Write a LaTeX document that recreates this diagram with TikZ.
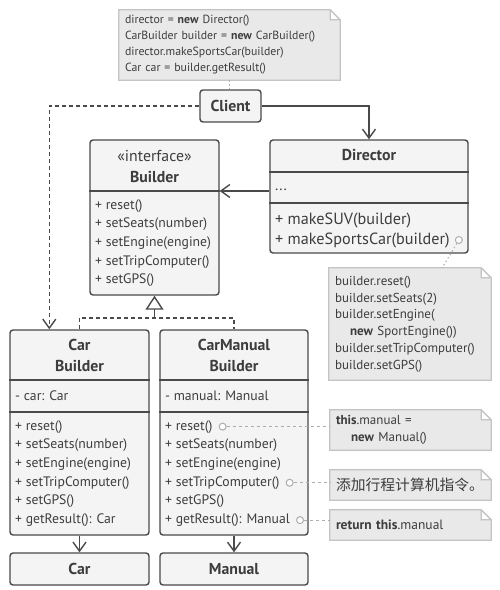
\documentclass[tikz,border=0pt]{standalone}
\usepackage{fontspec}
\setmainfont{PT Sans}
\newfontfamily\cjk{Noto Sans CJK SC}
\usetikzlibrary{arrows.meta}
\usetikzlibrary{positioning}
\usetikzlibrary{backgrounds}
\definecolor{ink}{HTML}{3D3D3D}
\definecolor{frame}{HTML}{4A4A4A}
\definecolor{paper}{HTML}{F4F4F4}
\definecolor{notepaper}{HTML}{E9E9E9}
\definecolor{noteframe}{HTML}{C4C4C4}
\definecolor{hint}{HTML}{ADADAD}
\tikzstyle{class}=[draw=frame, fill=paper, line width=1.4pt, rounded corners=3pt, inner sep=0pt]
\tikzstyle{divider}=[draw=frame, line width=1.4pt]
\tikzstyle{title}=[font=\fontsize{15.8}{18}\selectfont\bfseries, text=ink, inner sep=0pt, anchor=base]
\tikzstyle{member}=[font=\fontsize{13.7}{16}\selectfont, text=ink, inner sep=0pt, anchor=base west]
\tikzstyle{note}=[font=\fontsize{13}{17}\selectfont, text=ink, align=left, inner xsep=6pt, inner ysep=0pt]
\tikzstyle{note frame}=[draw=noteframe, fill=notepaper, line width=1.3pt]
\tikzstyle{link}=[draw=frame, line width=1.4pt]
\tikzstyle{dependency}=[link, dash pattern=on 4pt off 3pt]
\tikzstyle{open head}=[-{Straight Barb[length=9pt, width=13pt]}]
\tikzstyle{hint line}=[draw=hint, line width=1pt, dash pattern=on 3pt off 3pt]
\tikzstyle{hint dot}=[draw=hint, fill=white, circle, line width=1pt, minimum size=7pt, inner sep=0pt]

\begin{document}
\begin{tikzpicture}[x=1pt, y=-1pt]
  \useasboundingbox (0,0) rectangle (500,590);
  \begin{pgfonlayer}{background}
    \fill[white] (0,0) rectangle (500,590);
  \end{pgfonlayer}

  % client and its note
  \node[class, title, anchor=center, minimum width=61pt, minimum height=32pt] (client) at (230.5,106) {Client};
  \node[note, font=\fontsize{11.8}{16}\selectfont, text width=209pt, minimum height=70pt] (clientnote) at (229.5,45)
    {director = \textbf{new} Director()\\
     CarBuilder builder = \textbf{new} CarBuilder()\\
     director.makeSportsCar(builder)\\
     Car car = builder.getResult()};

  % builder interface
  \node[class, minimum width=129pt, minimum height=155pt] (builder) at (154.5,217.5) {};
  \draw[divider] (builder.west |- 0,191) -- (builder.east |- 0,191);
  \node[title, font=\fontsize{15.8}{18}\selectfont] (builderstereo) at (154.5,161) {«interface»};
  \node[title] (buildertitle) at (154.5,182) {Builder};
  \foreach \m [count=\i] in {reset(), setSeats(number), setEngine(engine), setTripComputer(), setGPS()}
    \node[member] (buildermember\i) at (95,190.4+18.7*\i) {+ \m};

  % director
  \node[class, minimum width=198pt, minimum height=113pt] (director) at (369,196.5) {};
  \draw[divider] (director.west |- 0,172) -- (director.east |- 0,172);
  \draw[divider] (director.west |- 0,203) -- (director.east |- 0,203);
  \node[title] (directortitle) at (369,160) {Director};
  \node[member, font=\fontsize{15}{16}\selectfont] (directorfield) at (275,190) {...};
  \node[member, font=\fontsize{16.2}{18}\selectfont] (directormethod1) at (275,224) {+ makeSUV(builder)};
  \node[member, font=\fontsize{16.2}{18}\selectfont] (directormethod2) at (275,244) {+ makeSportsCar(builder)};
  \node[hint dot, right=5pt of directormethod2] (directordot) {};
  \node[note, font=\fontsize{13}{16.8}\selectfont, text width=150pt, minimum height=112pt] (directornote) at (410,324)
    {builder.reset()\\
     builder.setSeats(2)\\
     builder.setEngine(\\
     \hspace*{15pt}\textbf{new} SportEngine())\\
     builder.setTripComputer()\\
     builder.setGPS()};

  % concrete builders
  \node[class, minimum width=139pt, minimum height=205pt] (carbuilder) at (79.5,432.5) {};
  \draw[divider] (carbuilder.west |- 0,380) -- (carbuilder.east |- 0,380);
  \draw[divider] (carbuilder.west |- 0,412) -- (carbuilder.east |- 0,412);
  \node[title] (carbuildertitle1) at (79.5,350) {Car};
  \node[title] (carbuildertitle2) at (79.5,371) {Builder};
  \node[member] (carbuilderfield) at (15,400) {- car: Car};
  \foreach \m [count=\i] in {reset(), setSeats(number), setEngine(engine), setTripComputer(), setGPS(), getResult(): Car}
    \node[member] (carmember\i) at (15,411.3+18.7*\i) {+ \m};

  \node[class, minimum width=148pt, minimum height=205pt] (manualbuilder) at (234,432.5) {};
  \draw[divider] (manualbuilder.west |- 0,380) -- (manualbuilder.east |- 0,380);
  \draw[divider] (manualbuilder.west |- 0,412) -- (manualbuilder.east |- 0,412);
  \node[title] (manualbuildertitle1) at (234,350) {CarManual};
  \node[title] (manualbuildertitle2) at (234,371) {Builder};
  \node[member] (manualbuilderfield) at (165,400) {- manual: Manual};
  \foreach \m [count=\i] in {reset(), setSeats(number), setEngine(engine), setTripComputer(), setGPS(), getResult(): Manual}
    \node[member] (manualmember\i) at (165,411.3+18.7*\i) {+ \m};

  % products
  \node[class, title, anchor=center, minimum width=139pt, minimum height=32pt] (car) at (79.5,569) {Car};
  \node[class, title, anchor=center, minimum width=148pt, minimum height=32pt] (manual) at (234,569) {Manual};

  % notes on the right
  \node[note, text width=149pt, minimum height=40pt] (resetnote) at (410.5,430)
    {\textbf{this}.manual =\\ \hspace*{15pt}\textbf{new} Manual()};
  \node[note, text width=149pt, minimum height=30pt, font=\fontsize{14.8}{18}\cjk] (tripnote) at (410.5,485) {添加行程计算机指令。};
  \node[note, text width=149pt, minimum height=30pt, font=\fontsize{13.5}{17}\selectfont] (resultnote) at (410.5,525) {\textbf{return this}.manual};
  \node[hint dot, right=6pt of manualmember1] (resetdot) {};
  \node[hint dot, right=6pt of manualmember4] (tripdot) {};
  \node[hint dot, right=6pt of manualmember6] (resultdot) {};

  \begin{pgfonlayer}{background}
    \foreach \n in {clientnote, directornote, resetnote, tripnote, resultnote}
      \draw[note frame] (\n.south west) -- (\n.north west) -- ([xshift=-10pt]\n.north east)
        -- ([yshift=-10pt]\n.north east) -- (\n.south east) -- cycle
        ([xshift=-10pt]\n.north east) |- ([yshift=-10pt]\n.north east);
  \end{pgfonlayer}

  % connectors
  \draw[link, open head] (client.east) -| (director.north);
  \draw[dependency, open head] (client.west) -| ([xshift=40pt]carbuilder.north west);
  \draw[link, open head] (director.west |- 0,191) -- (builder.east |- 0,191);
  \coordinate (join) at (builder.south |- 0,318);
  \draw[dependency] (carbuilder.north) |- (join) -| (manualbuilder.north);
  \draw[link, -{Triangle[open, length=14pt, width=18pt]}] (join) -- (builder.south);
  \draw[link, open head] (carbuilder.south) -- (car.north);
  \draw[link, open head] (manualbuilder.south) -- (manual.north);

  \draw[hint line, dash pattern=on 1.5pt off 2.5pt] (clientnote.south) -- (clientnote.south |- client.north);
  \draw[hint line, dash pattern=on 1.5pt off 2.5pt] (directordot) -- ([xshift=-49pt]directornote.north east);
  \draw[hint line] (resetdot) -- (resetnote.west |- resetdot);
  \draw[hint line] (tripdot) -- (tripnote.west |- tripdot);
  \draw[hint line] (resultdot) -- (resultnote.west |- resultdot);
\end{tikzpicture}
\end{document}
